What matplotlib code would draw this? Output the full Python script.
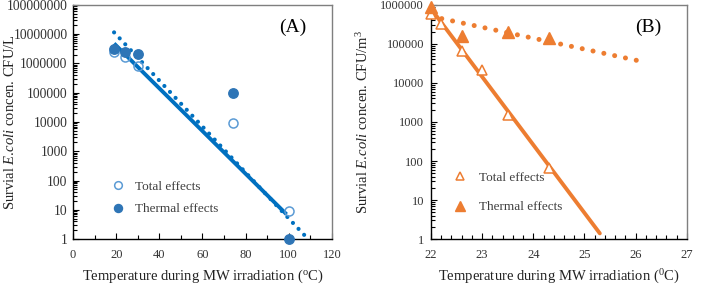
import matplotlib
matplotlib.use("Agg")
import matplotlib.pyplot as plt
from matplotlib.ticker import LogLocator, MultipleLocator, NullFormatter, FuncFormatter

plt.rcParams['font.family'] = ['Liberation Serif', 'DejaVu Serif']
plt.rcParams['mathtext.fontset'] = 'custom'
plt.rcParams['mathtext.rm'] = 'Liberation Serif'
plt.rcParams['mathtext.it'] = 'Liberation Serif:italic'

# Panel A data
a_total_x = [19, 24, 30, 74, 100]
a_total_y = [2.5e6, 1.7e6, 8.0e5, 9000, 9]
a_therm_x = [19, 24, 30, 74, 100]
a_therm_y = [3.2e6, 2.4e6, 2.1e6, 9.5e4, 1]
a_fit_total_x = [19, 99]
a_fit_total_y = [4.8e6, 7]
a_fit_therm_x = [19, 109]
a_fit_therm_y = [1.15e7, 1.0]

# Panel B data
b_total_x = [22.0, 22.2, 22.6, 23.0, 23.5, 24.3]
b_total_y = [6.0e5, 3.3e5, 6.5e4, 2.2e4, 1500, 65]
b_therm_x = [22.0, 22.6, 23.5, 24.3]
b_therm_y = [9.0e5, 1.6e5, 2.0e5, 1.4e5]
b_fit_total_x = [22.0, 25.3]
b_fit_total_y = [8.0e5, 1.4]
b_fit_therm_x = [22.0, 26.1]
b_fit_therm_y = [5.1e5, 3.6e4]

blue = '#2e75b6'
blue_line = '#0070c0'
orange = '#ed7d31'

fig = plt.figure(figsize=(7.03, 2.87), dpi=100)
axA = fig.add_axes([0.104, 0.167, 0.368, 0.816])
axB = fig.add_axes([0.613, 0.167, 0.364, 0.816])

fmt = FuncFormatter(lambda v, p: f"{int(round(v))}")

def style(ax, yfs, ypad):
    ax.set_yscale('log')
    ax.yaxis.set_major_locator(LogLocator(base=10, numticks=20))
    ax.yaxis.set_minor_locator(LogLocator(base=10, subs=range(2, 10), numticks=20))
    ax.yaxis.set_major_formatter(fmt)
    ax.yaxis.set_minor_formatter(NullFormatter())
    ax.tick_params(which='both', direction='in', colors='black', labelcolor='#333333')
    ax.tick_params(axis='both', which='major', length=4, width=0.8)
    ax.tick_params(axis='both', which='minor', length=3, width=0.8)
    ax.tick_params(axis='x', which='both', pad=7, labelsize=9)
    ax.tick_params(axis='y', which='both', pad=ypad, labelsize=yfs)
    for s in ['left', 'bottom']:
        ax.spines[s].set_color('black')
        ax.spines[s].set_linewidth(1.0)
    for s in ['top', 'right']:
        ax.spines[s].set_color('#7f7f7f')
        ax.spines[s].set_linewidth(1.0)

# Panel A
style(axA, 9.8, 4)
axA.plot(a_fit_therm_x, a_fit_therm_y, color=blue_line, lw=3.0, linestyle=(0, (0.01, 1.95)),
         dash_capstyle='round', zorder=2)
axA.plot(a_fit_total_x, a_fit_total_y, color=blue_line, lw=2.8, solid_capstyle='butt', zorder=2)
axA.plot(a_total_x, a_total_y, 'o', ms=6.5, mfc='none', mec='#5b9bd5', mew=1.1, zorder=3,
         label='Total effects', clip_on=False)
axA.plot(a_therm_x, a_therm_y, 'o', ms=6.8, color=blue, zorder=4, label='Thermal effects',
         clip_on=False)
axA.set_xlim(0, 120)
axA.set_ylim(1, 1e8)
axA.xaxis.set_major_locator(MultipleLocator(20))
axA.xaxis.set_minor_locator(MultipleLocator(10))
axA.set_xlabel(r'Temperature during MW irradiation ($^{\rm o}$C)', fontsize=10.5, labelpad=5,
               color='#222222')
axA.set_ylabel(r'Survial $\it{E.\!coli}$ concen. CFU/L', fontsize=10.5, color='#222222')
axA.yaxis.set_label_coords(-0.215, 0.5)
axA.text(0.85, 0.905, '(A)', transform=axA.transAxes, fontsize=14, ha='center', va='center')
axA.legend(loc='lower left', bbox_to_anchor=(0.075, 0.05), frameon=False, fontsize=9.5,
           handletextpad=0.35, labelspacing=0.8, markerscale=0.85, labelcolor='#404040')

# Panel B
style(axB, 9, 5)
axB.plot(b_fit_therm_x, b_fit_therm_y, color=orange, lw=3.6, linestyle=(0, (0.01, 2.2)),
         dash_capstyle='round', zorder=2)
axB.plot(b_fit_total_x, b_fit_total_y, color=orange, lw=2.8, solid_capstyle='round', zorder=2)
axB.plot(b_total_x, b_total_y, '^', ms=6.5, mfc='white', mec=orange, mew=1.1, zorder=3,
         label='Total effects', clip_on=False)
axB.plot(b_therm_x, b_therm_y, '^', ms=8, color=orange, zorder=4, label='Thermal effects',
         clip_on=False)
axB.set_xlim(22, 27)
axB.set_ylim(1, 1e6)
axB.xaxis.set_major_locator(MultipleLocator(1))
axB.xaxis.set_minor_locator(MultipleLocator(0.2))
axB.set_xlabel(r'Temperature during MW irradiation ($^{\rm 0}$C)', fontsize=10.5, labelpad=5,
               color='#222222')
axB.set_ylabel(r'Survial $\it{E.\!coli}$ concen. CFU/m$^{\rm 3}$', fontsize=10.5, color='#222222')
axB.yaxis.set_label_coords(-0.235, 0.5)
axB.text(0.85, 0.905, '(B)', transform=axB.transAxes, fontsize=14, ha='center', va='center')
axB.legend(loc='lower left', bbox_to_anchor=(0.015, 0.06), frameon=False, fontsize=9.5,
           handletextpad=0.45, labelspacing=1.3, markerscale=0.9, labelcolor='#404040')

fig.savefig('out.png', dpi=100)
